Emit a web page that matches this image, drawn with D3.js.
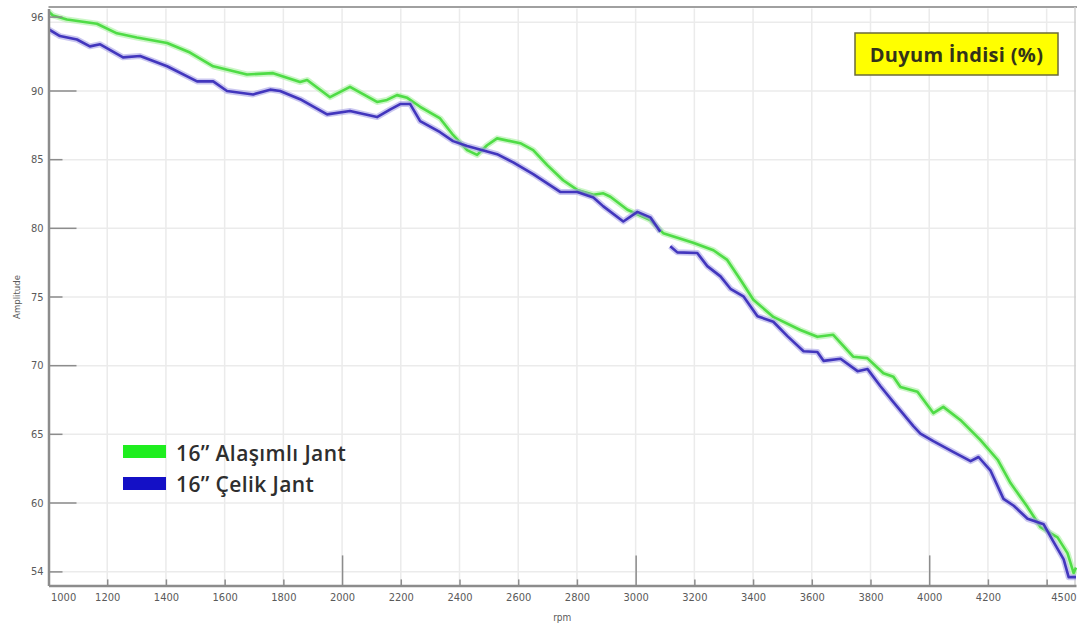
<!DOCTYPE html>
<html>
<head>
<meta charset="utf-8">
<script src="https://cdn.jsdelivr.net/npm/d3@7"></script>
<style>
  body { margin: 0; background: #fff; }
  svg { display: block; }
</style>
</head>
<body>
<svg id="chart" width="1077" height="633"></svg>
<script>
// 16'' Alaşımlı Jant (green)
var alasimliRpm = [1000, 1015, 1063, 1165, 1233, 1301, 1404, 1482, 1561, 1676, 1765, 1857, 1881, 1959, 2027, 2119, 2153, 2187, 2222, 2266,
    2334, 2378, 2426, 2460, 2494, 2528, 2607, 2651, 2699, 2753, 2801, 2856, 2890, 2914, 2972, 3050, 3094, 3196, 3265, 3312,
    3357, 3401, 3469, 3561, 3619, 3673, 3741, 3789, 3844, 3878, 3902, 3960, 4014, 4048, 4106, 4174, 4233, 4277, 4335, 4379,
    4437, 4471, 4492, 4500];
var alasimliVal = [95.8, 95.5, 95.2, 94.9, 94.2, 93.9, 93.5, 92.8, 91.8, 91.2, 91.3, 90.65, 90.8, 89.55, 90.3, 89.2, 89.35, 89.7, 89.5, 88.85,
    88.0, 86.8, 85.7, 85.35, 86.05, 86.55, 86.2, 85.7, 84.6, 83.5, 82.8, 82.45, 82.55, 82.3, 81.35, 80.6, 79.65, 78.95, 78.4, 77.7,
    76.25, 74.8, 73.55, 72.6, 72.1, 72.25, 70.65, 70.55, 69.45, 69.2, 68.45, 68.1, 66.55, 67.0, 66.05, 64.6, 63.15, 61.45, 59.7, 58.25,
    57.5, 56.35, 54.9, 55.3];

// 16'' Çelik Jant (blue), null = break in the trace
var celikRpm = [1000, 1039, 1097, 1141, 1176, 1254, 1312, 1404, 1506, 1561, 1608, 1697, 1755, 1789, 1857, 1949, 2027, 2119, 2163, 2198,
    2232, 2266, 2334, 2378, 2426, 2494, 2528, 2583, 2651, 2743, 2801, 2856, 2890, 2958, 3006, 3050, 3084, 3100, 3118, 3142,
    3210, 3244, 3289, 3323, 3367, 3415, 3469, 3517, 3572, 3619, 3640, 3698, 3756, 3790, 3834, 3878, 3946, 3970, 4014, 4083,
    4141, 4168, 4209, 4253, 4288, 4335, 4390, 4424, 4458, 4475, 4500];
var celikVal = [94.5, 94.0, 93.75, 93.25, 93.4, 92.45, 92.55, 91.8, 90.7, 90.7, 90.0, 89.75, 90.1, 90.0, 89.4, 88.3, 88.55, 88.1, 88.65, 89.05,
    89.05, 87.8, 87.0, 86.35, 86.0, 85.6, 85.4, 84.8, 83.95, 82.65, 82.65, 82.25, 81.6, 80.5, 81.2, 80.8, 79.75, null, 78.7, 78.25,
    78.2, 77.25, 76.5, 75.6, 75.05, 73.6, 73.2, 72.15, 71.05, 71.0, 70.35, 70.5, 69.6, 69.75, 68.5, 67.35, 65.6, 65.05, 64.5, 63.7,
    63.05, 63.35, 62.35, 60.3, 59.8, 58.85, 58.45, 57.15, 55.9, 54.6, 54.6];

var xTicks = [1000, 1200, 1400, 1600, 1800, 2000, 2200, 2400, 2600, 2800, 3000, 3200, 3400, 3600, 3800, 4000, 4200, 4400, 4500];
var xLongTicks = [2000, 3000, 4000];
var yTicks = [54, 60, 65, 70, 75, 80, 85, 90, 96];
var yLongTicks = [60, 70, 80, 90];
var xGrid = [1200, 1400, 1600, 1800, 2000, 2200, 2400, 2600, 2800, 3000, 3200, 3400, 3600, 3800, 4000, 4200, 4400];
var yGrid = [55, 60, 65, 70, 75, 80, 85, 90, 95];

var seriesNames = ["16\u2019\u2019 Alaşımlı Jant", "16\u2019\u2019 Çelik Jant"];
var titleText = "Duyum İndisi (%)";

var colors = {
    green: "#4fdc46",
    greenHalo: "#a8f0a0",
    greenKey: "#1fee1f",
    blue: "#4236bd",
    blueHalo: "#a7a2e6",
    blueKey: "#1410c6",
    axis: "#8c8c8c",
    grid: "#ebebeb",
    text: "#5a5a5a"
};

var svg = d3.select("#chart");

var x = d3.scaleLinear().domain([1000, 4500]).range([48.5, 1076]);
var y = d3.scaleLinear().domain([54, 96]).range([585.4, 8.6]);

// grid
svg.append("g").selectAll("line")
    .data(xGrid).enter().append("line")
    .attr("x1", function (d) { return x(d); })
    .attr("x2", function (d) { return x(d); })
    .attr("y1", y(96)).attr("y2", y(54))
    .attr("stroke", colors.grid).attr("stroke-width", 1.5);

svg.append("g").selectAll("line")
    .data(yGrid).enter().append("line")
    .attr("x1", x(1000)).attr("x2", x(4500))
    .attr("y1", function (d) { return y(d); })
    .attr("y2", function (d) { return y(d); })
    .attr("stroke", colors.grid).attr("stroke-width", 1.5);

// frame top / right
svg.append("line").attr("x1", x(1000)).attr("x2", 1077).attr("y1", 7).attr("y2", 7)
    .attr("stroke", "#a0a0a0").attr("stroke-width", 2);
svg.append("line").attr("x1", 1075).attr("x2", 1075).attr("y1", 7).attr("y2", y(54))
    .attr("stroke", "#d0d0d0").attr("stroke-width", 1.5);

// clip
svg.append("clipPath").attr("id", "plotClip").append("rect")
    .attr("x", x(1000)).attr("y", 7).attr("width", x(4500) - x(1000) + 2).attr("height", y(54) - 7);

function drawSeries(rpm, vals, color, halo) {
    var pts = rpm.map(function (r, i) { return { rpm: r, v: vals[i] }; });
    var line = d3.line()
        .defined(function (d) { return d.v !== null; })
        .x(function (d) { return x(d.rpm); })
        .y(function (d) { return y(d.v); });
    var g = svg.append("g").attr("clip-path", "url(#plotClip)");
    g.append("path").datum(pts)
        .attr("d", line).attr("fill", "none")
        .attr("stroke", halo).attr("stroke-width", 6).attr("stroke-opacity", 0.6)
        .attr("stroke-linejoin", "round");
    g.append("path").datum(pts)
        .attr("d", line).attr("fill", "none")
        .attr("stroke", color).attr("stroke-width", 2.6)
        .attr("stroke-linejoin", "round");
}

drawSeries(alasimliRpm, alasimliVal, colors.green, colors.greenHalo);
drawSeries(celikRpm, celikVal, colors.blue, colors.blueHalo);

// y axis
var yAxis = svg.append("g")
    .attr("transform", "translate(" + x(1000) + ",0)")
    .call(d3.axisLeft(y).tickValues(yTicks).tickSize(0).tickPadding(5));
yAxis.select(".domain").attr("stroke", colors.axis).attr("stroke-width", 2.5);
yAxis.selectAll(".tick").each(function (d) {
    var t = d3.select(this);
    var off = d === 96 ? 8.5 : (d === 54 ? -13.5 : 0);
    t.attr("transform", "translate(0," + (y(d) + off) + ")");
    t.append("line").attr("x1", 0).attr("x2", yLongTicks.indexOf(d) >= 0 ? 28 : 14)
        .attr("stroke", colors.axis).attr("stroke-width", 1.5);
});
yAxis.selectAll("text")
    .attr("fill", colors.text)
    .style("font-family", "'DejaVu Sans Condensed', 'DejaVu Sans', sans-serif")
    .style("font-size", "11px");

// x axis
var xAxis = svg.append("g")
    .attr("transform", "translate(0," + y(54) + ")")
    .call(d3.axisBottom(x).tickValues(xTicks).tickSize(0).tickPadding(8)
        .tickFormat(function (d) { return d === 4400 ? "" : d; }));
xAxis.select(".domain").attr("stroke", colors.axis).attr("stroke-width", 2.5);
xAxis.selectAll(".tick").each(function (d) {
    var t = d3.select(this);
    if (d !== 1000 && d !== 4500) {
        t.append("line").attr("y1", 0).attr("y2", xLongTicks.indexOf(d) >= 0 ? -30 : -6)
            .attr("stroke", colors.axis).attr("stroke-width", 1.5);
    }
    if (d === 1000) t.select("text").attr("text-anchor", "start").attr("x", 2);
    if (d === 4500) t.select("text").attr("text-anchor", "end").attr("x", 0);
});
xAxis.selectAll("text")
    .attr("fill", colors.text)
    .style("font-family", "'DejaVu Sans Condensed', 'DejaVu Sans', sans-serif")
    .style("font-size", "11px");

// axis titles
svg.append("text")
    .attr("x", (x(1000) + x(4500)) / 2).attr("y", 621)
    .attr("text-anchor", "middle")
    .attr("fill", colors.text)
    .style("font-family", "'DejaVu Sans Condensed', 'DejaVu Sans', sans-serif")
    .style("font-size", "10px")
    .text("rpm");

svg.append("text")
    .attr("transform", "translate(20,297) rotate(-90)")
    .attr("text-anchor", "middle")
    .attr("fill", colors.text)
    .style("font-family", "'DejaVu Sans Condensed', 'DejaVu Sans', sans-serif")
    .style("font-size", "9.5px")
    .text("Amplitude");

// title box
var tb = svg.append("g");
tb.append("rect").attr("x", 855).attr("y", 33).attr("width", 203).attr("height", 42)
    .attr("fill", "#ffff00").attr("stroke", "#6b6b3a").attr("stroke-width", 1.5);
tb.append("text").attr("x", 956.5).attr("y", 61.5)
    .attr("text-anchor", "middle")
    .attr("fill", "#33331a")
    .style("font-family", "'Open Sans', sans-serif")
    .style("font-weight", 700)
    .style("font-size", "20px")
    .style("letter-spacing", "0.3px")
    .text(titleText);

// legend
var legend = svg.append("g").attr("transform", "translate(123,445)");
var legendKeys = [colors.greenKey, colors.blueKey];
legend.selectAll("rect").data(seriesNames).enter().append("rect")
    .attr("x", 0).attr("y", function (d, i) { return i * 32; })
    .attr("width", 43).attr("height", 13)
    .attr("fill", function (d, i) { return legendKeys[i]; });
legend.selectAll("text").data(seriesNames).enter().append("text")
    .attr("x", 53).attr("y", function (d, i) { return 15.5 + i * 31; })
    .attr("fill", "#2e2e2e")
    .style("font-family", "'Open Sans', sans-serif")
    .style("font-weight", 600)
    .style("font-size", "21px")
    .style("letter-spacing", "0.4px")
    .text(function (d) { return d; });
</script>
</body>
</html>
